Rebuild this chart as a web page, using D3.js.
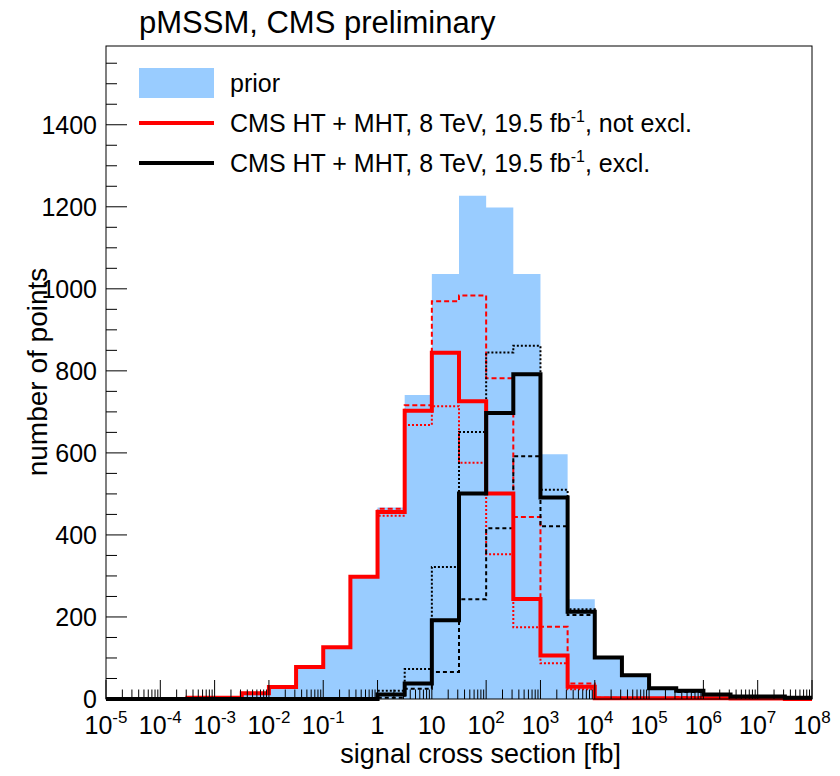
<!DOCTYPE html>
<html><head><meta charset="utf-8">
<script src="https://cdn.jsdelivr.net/npm/d3@7"></script>
<style>
body{margin:0;background:#fff}
text{font-family:"Liberation Sans",Arial,Helvetica,sans-serif;fill:#000}
</style>
</head><body>
<svg id="c" width="840" height="776"></svg>
<script>
// bin edges (log10 of signal cross section in fb), half-decade bins
const binEdgeExponents = [-5,-4.5,-4,-3.5,-3,-2.5,-2,-1.5,-1,-0.5,0,0.5,1,1.5,2,2.5,3,3.5,4,4.5,5,5.5,6,6.5,7,7.5,8];
// number of points per bin
const prior         = [0,0,0,3,3,14,29,78,126,298,467,741,1036,1227,1198,1036,597,243,103,60,28,22,13,7,7,3];
const notExcl       = [0,0,0,3,3,14,29,78,126,298,456,703,844,726,501,244,106,30,2,2,2,2,2,1,1,0];
const excl          = [0,0,0,0,0,0,0,0,0,0,11,38,192,501,697,792,491,213,101,58,26,20,11,6,6,3];
const notExclDashed = [0,0,0,3,3,14,29,78,126,298,464,716,970,984,782,444,176,38,3,2,2,5,2,1,1,0];
const exclDashed    = [0,0,0,0,0,0,0,0,0,0,3,25,66,243,416,592,421,205,100,58,26,17,11,6,6,3];
const notExclDotted = [0,0,0,3,3,14,29,78,126,298,447,668,714,576,353,175,87,24,2,2,2,2,2,1,1,0];
const exclDotted    = [0,0,0,0,0,0,0,0,0,0,20,73,322,651,845,861,510,219,101,58,26,20,11,6,6,3];

const yMajorTicks = [0,200,400,600,800,1000,1200,1400];
const yMinorTicks = [50,100,150,250,300,350,450,500,550,650,700,750,850,900,950,1050,1100,1150,1250,1300,1350,1450,1500,1550];
const xTickExponents = [-5,-4,-3,-2,-1,0,1,2,3,4,5,6,7,8];
const xMinorMultipliers = [2,3,4,5,6,7,8,9];

const titleText = "pMSSM, CMS preliminary";
const xTitle = "signal cross section [fb]";
const yTitle = "number of points";
const legendEntries = [
  {pre:"prior", sup:"", post:"", kind:"fill", color:"#99ccff"},
  {pre:"CMS HT + MHT, 8 TeV, 19.5 fb", sup:"-1", post:", not excl.", kind:"line", color:"#ff0000"},
  {pre:"CMS HT + MHT, 8 TeV, 19.5 fb", sup:"-1", post:", excl.", kind:"line", color:"#000000"}
];

const svg = d3.select("#c");
const L = 106, R = 812, T = 46, B = 699;
const x = d3.scaleLog().domain([1e-5,1e8]).range([L,R]);
const y = d3.scaleLinear().domain([0,1592]).range([B,T]);

const edges = binEdgeExponents.map(e => Math.pow(10,e));
function pts(vals){
  const p = vals.map((v,i)=>[edges[i],v]);
  p.push([edges[edges.length-1], vals[vals.length-1]]);
  return p;
}
const area = d3.area().curve(d3.curveStepAfter).x(d=>x(d[0])).y0(y(0)).y1(d=>y(d[1]));
const line = d3.line().curve(d3.curveStepAfter).x(d=>x(d[0])).y(d=>y(d[1]));

const g = svg.append("g");
g.append("path").attr("d", area(pts(prior))).attr("fill","#99ccff");

function hist(vals, color, width, dash){
  g.append("path").attr("d", line(pts(vals))).attr("fill","none")
   .attr("stroke",color).attr("stroke-width",width)
   .attr("stroke-dasharray", dash || null).attr("stroke-linejoin","miter");
}
hist(notExclDotted, "#ff0000", 2, "2,2");
hist(notExclDashed, "#ff0000", 2, "5,3");
hist(exclDotted, "#000", 2, "2,2");
hist(exclDashed, "#000", 2, "4,3");
hist(notExcl, "#ff0000", 4);
hist(excl, "#000", 4);

// frame
svg.append("rect").attr("x",L).attr("y",T).attr("width",R-L).attr("height",B-T)
  .attr("fill","none").attr("stroke","#000").attr("stroke-width",1);

// y ticks
const ax = svg.append("g").attr("stroke","#000").attr("stroke-width",1);
yMajorTicks.forEach(v=>{
  ax.append("line").attr("x1",L).attr("x2",L+21).attr("y1",y(v)).attr("y2",y(v));
});
yMinorTicks.forEach(v=>{
  ax.append("line").attr("x1",L).attr("x2",L+11).attr("y1",y(v)).attr("y2",y(v));
});
// x ticks
xTickExponents.forEach(e=>{
  const v = Math.pow(10,e);
  ax.append("line").attr("x1",x(v)).attr("x2",x(v)).attr("y1",B).attr("y2",B-19);
  if (e < 8) xMinorMultipliers.forEach(m=>{
    ax.append("line").attr("x1",x(m*v)).attr("x2",x(m*v)).attr("y1",B).attr("y2",B-9.5);
  });
});

// y labels
yMajorTicks.forEach(v=>{
  svg.append("text").attr("x",97).attr("y",y(v)+9).attr("text-anchor","end")
    .attr("font-size",25).text(v);
});
// x labels
xTickExponents.forEach(e=>{
  const t = svg.append("text").attr("x",x(Math.pow(10,e))).attr("y",734)
    .attr("text-anchor","middle").attr("font-size",25);
  if (e === 0) t.text("1");
  else if (e === 1) t.text("10");
  else {
    t.append("tspan").text("10");
    t.append("tspan").attr("dy",-11).attr("font-size",17).text(e);
  }
});

// axis titles
svg.append("text").attr("x",621).attr("y",763).attr("text-anchor","end")
  .attr("font-size",27).text(xTitle);
svg.append("text").attr("transform","translate(47,372) rotate(-90)")
  .attr("text-anchor","middle").attr("font-size",28).text(yTitle);

// title
svg.append("text").attr("x",139).attr("y",33).attr("font-size",31).text(titleText);

// legend
legendEntries.forEach((d,i)=>{
  const cy = 83 + i*40;
  if (d.kind==="fill") {
    svg.append("rect").attr("x",139).attr("y",cy-15).attr("width",75).attr("height",30).attr("fill",d.color);
  } else {
    svg.append("line").attr("x1",139).attr("x2",214).attr("y1",cy).attr("y2",cy)
      .attr("stroke",d.color).attr("stroke-width",4);
  }
  const t = svg.append("text").attr("x",230).attr("y",cy+9).attr("font-size",25);
  t.append("tspan").text(d.pre);
  if (d.sup) {
    t.append("tspan").attr("dy",-10).attr("font-size",16).text(d.sup);
    t.append("tspan").attr("dy",10).text(d.post);
  }
});
</script>
</body></html>
